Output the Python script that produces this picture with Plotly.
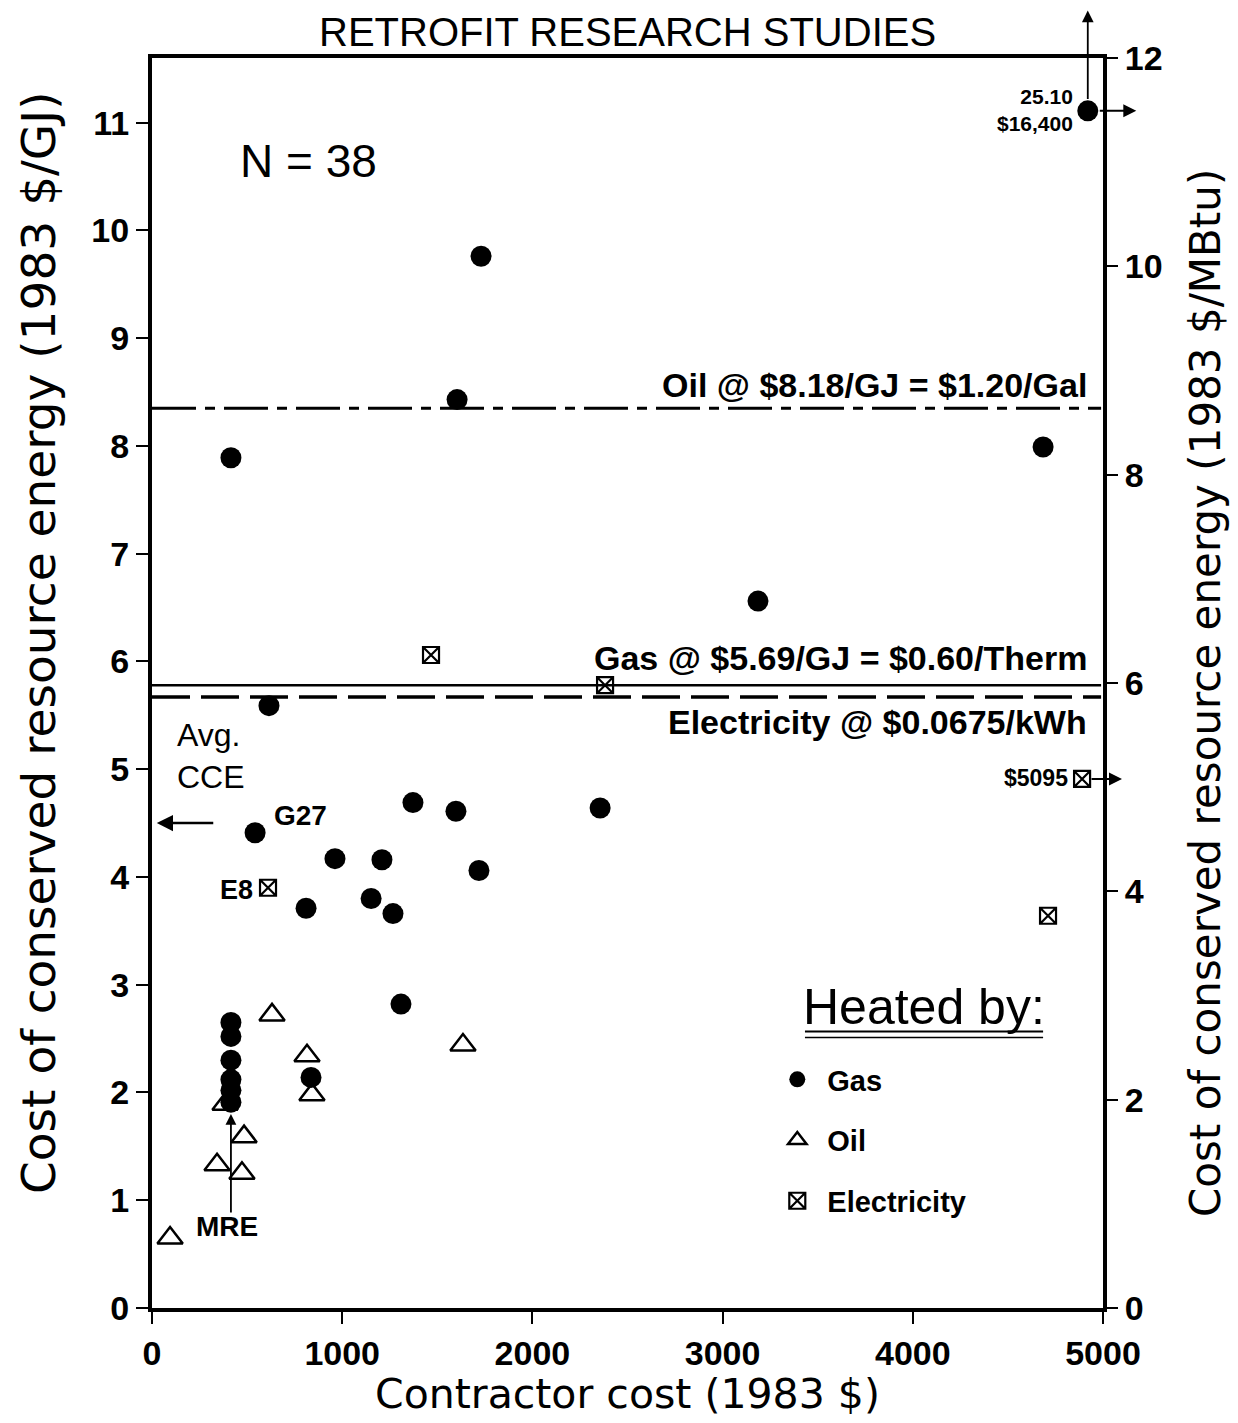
import plotly.graph_objects as go

# ---------------- data ----------------
gas_x = [4920, 1730, 1604, 415, 4685, 3186, 615, 1372, 1598, 2356, 542, 962, 1209,
         1719, 810, 1152, 1267, 1309, 836, 415, 415, 415, 415, 415, 415]
gas_y = [11.11, 9.76, 8.43, 7.89, 7.99, 6.56, 5.59, 4.69, 4.61, 4.64, 4.41, 4.17, 4.16,
         4.06, 3.71, 3.80, 3.66, 2.82, 2.14, 2.65, 2.52, 2.30, 2.12, 2.02, 1.91]

oil_x = [95, 384, 484, 342, 473, 631, 815, 841, 1635]
oil_y = [0.65, 1.89, 1.59, 1.33, 1.25, 2.72, 2.34, 1.98, 2.44]

elec_x = [1467, 2382, 610, 4711, 4890]
elec_y = [6.06, 5.78, 3.90, 3.64, 4.91]

price_labels = ["Oil @ $8.18/GJ = $1.20/Gal",
                "Gas @ $5.69/GJ = $0.60/Therm",
                "Electricity @ $0.0675/kWh"]
price_levels = [8.35, 5.78, 5.67]
price_label_y = [8.57, 6.03, 5.44]
price_dash = ["44px,9px,10px,9px", "solid", "38px,11px"]
price_width = [3, 2.5, 3.5]

avg_cce = 4.5
left_ticks = list(range(0, 12))
right_ticks = list(range(0, 13, 2))
x_ticks = [0, 1000, 2000, 3000, 4000, 5000]

FONT = "Liberation Sans, Arial, sans-serif"
WIDE = "DejaVu Sans, Liberation Sans, sans-serif"
BLACK = "black"

fig = go.Figure()

# reference price lines
for lvl, dash, w in zip(price_levels, price_dash, price_width):
    fig.add_trace(go.Scatter(x=[0, 4990], y=[lvl, lvl], mode="lines",
                             line=dict(color=BLACK, width=w, dash=dash),
                             showlegend=False, hoverinfo="skip"))

fig.add_trace(go.Scatter(x=gas_x, y=gas_y, mode="markers", name="Gas", legendgroup="g",
                         marker=dict(symbol="circle", size=21, color=BLACK)))
fig.add_trace(go.Scatter(x=oil_x, y=oil_y, mode="markers", name="Oil", legendgroup="o",
                         marker=dict(symbol="triangle-up-open", size=22, color=BLACK,
                                     line=dict(width=2.5, color=BLACK))))
fig.add_trace(go.Scatter(x=elec_x, y=elec_y, mode="markers", name="Electricity", legendgroup="e",
                         marker=dict(symbol="square-x-open", size=16, color=BLACK,
                                     line=dict(width=2.2, color=BLACK))))
# invisible trace to activate right axis
fig.add_trace(go.Scatter(x=[0], y=[0], yaxis="y2", mode="markers",
                         marker=dict(opacity=0), showlegend=False, hoverinfo="skip"))

ann = []
for t, yy in zip(price_labels, price_label_y):
    ann.append(dict(x=4927, y=yy, xref="x", yref="y", text="<b>" + t + "</b>", showarrow=False,
                    xanchor="right", yanchor="middle",
                    font=dict(size=34, family=FONT, color=BLACK)))

ann += [
    # title
    dict(x=0.5, y=1.04, xref="paper", yref="paper", text="RETROFIT RESEARCH STUDIES",
         showarrow=False, xanchor="center", yanchor="top",
         font=dict(size=40, family=FONT, color=BLACK)),
    # axis titles
    dict(x=-0.1199, y=0.532, xref="paper", yref="paper",
         text="Cost of conserved resource energy (1983 $/GJ)", showarrow=False,
         textangle=-90, xanchor="center", yanchor="middle",
         font=dict(size=47, family=WIDE, color=BLACK)),
    dict(x=1.1073, y=0.492, xref="paper", yref="paper",
         text="Cost of conserved resource energy (1983 $/MBtu)", showarrow=False,
         textangle=-90, xanchor="center", yanchor="middle",
         font=dict(size=42, family=WIDE, color=BLACK)),
    dict(x=0.5005, y=-0.069, xref="paper", yref="paper",
         text="Contractor cost (1983 $)", showarrow=False,
         xanchor="center", yanchor="middle",
         font=dict(size=41, family=WIDE, color=BLACK)),
    dict(x=825, y=10.64, xref="x", yref="y", text="N = 38", showarrow=False,
         font=dict(size=46, family=FONT, color=BLACK)),
    dict(x=121, y=5.12, xref="x", yref="y", text="Avg.<br>CCE", showarrow=False,
         xanchor="left", align="left", font=dict(size=32, family=FONT, color=BLACK)),
    dict(x=25, y=avg_cce, xref="x", yref="y", text="", showarrow=True,
         arrowhead=2, arrowsize=1.3, arrowwidth=2.5, arrowcolor=BLACK, ax=58, ay=0),
    dict(x=631, y=4.57, xref="x", yref="y", text="<b>G27</b>", showarrow=False,
         xanchor="left", font=dict(size=28, family=FONT, color=BLACK)),
    dict(x=542, y=3.88, xref="x", yref="y", text="<b>E8</b>", showarrow=False,
         xanchor="right", font=dict(size=27, family=FONT, color=BLACK)),
    dict(x=415, y=1.80, xref="x", yref="y", text="", showarrow=True,
         arrowhead=2, arrowsize=1.2, arrowwidth=1.8, arrowcolor=BLACK, ax=0, ay=100),
    dict(x=394, y=0.76, xref="x", yref="y", text="<b>MRE</b>", showarrow=False,
         font=dict(size=28, family=FONT, color=BLACK)),
    dict(x=4853, y=11.12, xref="x", yref="y", text="<b>25.10<br>$16,400</b>",
         showarrow=False, xanchor="right", align="right",
         font=dict(size=21, family=FONT, color=BLACK)),
    dict(x=4920, y=1.038, xref="x", yref="paper", text="", showarrow=True,
         arrowhead=2, arrowsize=1.3, arrowwidth=1.8, arrowcolor=BLACK, ax=0, ay=90),
    dict(x=1.035, y=11.11, xref="paper", yref="y", text="", showarrow=True,
         arrowhead=2, arrowsize=1.3, arrowwidth=2, arrowcolor=BLACK, ax=-38, ay=0),
    dict(x=4827, y=4.92, xref="x", yref="y", text="<b>$5095</b>", showarrow=False,
         xanchor="right", font=dict(size=23, family=FONT, color=BLACK)),
    dict(x=1.02, y=4.91, xref="paper", yref="y", text="", showarrow=True,
         arrowhead=2, arrowsize=1.3, arrowwidth=2, arrowcolor=BLACK, ax=-32, ay=0),
    dict(x=4059, y=2.79, xref="x", yref="y", text="Heated by:", showarrow=False,
         font=dict(size=50, family=FONT, color=BLACK)),
]

shapes = [
    dict(type="line", xref="x", yref="y", x0=3433, x1=4685, y0=2.565, y1=2.565,
         line=dict(color=BLACK, width=2)),
    dict(type="line", xref="x", yref="y", x0=3433, x1=4685, y0=2.51, y1=2.51,
         line=dict(color=BLACK, width=1.5)),
]

tick_font = dict(size=34, family=FONT, color=BLACK, weight="bold")

fig.update_layout(
    width=1238, height=1423,
    margin=dict(l=144, r=143, t=50, b=123, autoexpand=False),
    paper_bgcolor="white", plot_bgcolor="white",
    font=dict(family=FONT, color=BLACK),
    annotations=ann, shapes=shapes,
    showlegend=True,
    legend=dict(x=0.647, y=0.2032, xanchor="left", yanchor="top",
                bgcolor="rgba(0,0,0,0)", tracegroupgap=20, itemwidth=50,
                font=dict(size=29, family=FONT, color=BLACK, weight="bold")),
    xaxis=dict(range=[0, 5000], tickvals=x_ticks, showgrid=False, zeroline=False,
               automargin=False,
               showline=True, linewidth=4, linecolor=BLACK, mirror=True,
               ticks="outside", ticklen=12, tickwidth=2, tickcolor=BLACK,
               tickfont=tick_font),
    yaxis=dict(range=[0, 11.6], tickvals=left_ticks, showgrid=False, zeroline=False,
               automargin=False,
               showline=True, linewidth=4, linecolor=BLACK, mirror=True,
               ticks="outside", ticklen=12, tickwidth=2, tickcolor=BLACK,
               tickfont=tick_font),
    yaxis2=dict(range=[0, 12], tickvals=right_ticks, overlaying="y", side="right",
                automargin=False,
                showgrid=False, zeroline=False, showline=False,
                ticks="outside", ticklen=14, tickwidth=2, tickcolor=BLACK,
                tickfont=tick_font),
)

fig.write_html("out.html")
